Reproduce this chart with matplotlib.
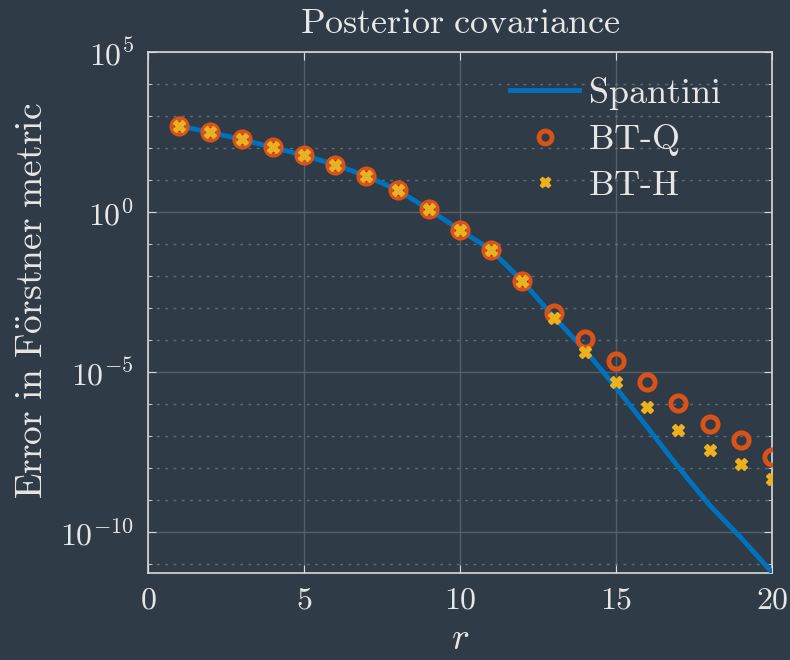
import numpy as np
import matplotlib
matplotlib.use('Agg')
import matplotlib.pyplot as plt
from matplotlib.ticker import FixedLocator, LogLocator, LogFormatterMathtext, NullFormatter

# ranks
r = [1, 2, 3, 4, 5, 6, 7, 8, 9, 10, 11, 12, 13, 14, 15, 16, 17, 18, 19, 20]

# log10 of the errors
spantini_log = [2.69, 2.49, 2.27, 2.02, 1.77, 1.48, 1.12, 0.69, 0.08, -0.56,
                -1.19, -2.16, -3.27, -4.31, -5.48, -6.72, -7.97, -9.16, -10.17, -11.26]
btq_log = [2.69, 2.49, 2.27, 2.02, 1.77, 1.48, 1.12, 0.69, 0.08, -0.56,
           -1.19, -2.16, -3.15, -3.98, -4.67, -5.31, -5.98, -6.63, -7.13, -7.65]
bth_log = [2.69, 2.49, 2.27, 2.02, 1.77, 1.48, 1.12, 0.69, 0.08, -0.56,
           -1.19, -2.16, -3.32, -4.37, -5.30, -6.10, -6.81, -7.44, -7.88, -8.35]

spantini = 10.0 ** np.array(spantini_log)
btq = 10.0 ** np.array(btq_log)
bth = 10.0 ** np.array(bth_log)

bg = '#2f3b46'
fg = '#e6e6e6'

plt.rcParams['mathtext.fontset'] = 'cm'
plt.rcParams['font.family'] = ['cmr10', 'DejaVu Serif']
plt.rcParams['axes.formatter.use_mathtext'] = True

fig = plt.figure(figsize=(7.9, 6.6), dpi=100, facecolor=bg)
ax = fig.add_axes([0.1873, 0.1318, 0.7899, 0.7894], facecolor=bg)

ax.plot(r, spantini, color='#0072BD', lw=3.5, label=r'$\mathrm{Spantini}$', zorder=3)
ax.plot(r, btq, 'o', ms=11, mfc='none', mec='#D95319', mew=3.5,
        label=r'$\mathrm{BT}$-$\mathrm{Q}$', zorder=4)
ax.plot(r, bth, 'X', ms=9, color='#EDB120', mec='#EDB120',
        label=r'$\mathrm{BT}$-$\mathrm{H}$', zorder=5)

ax.set_yscale('log')
ax.set_xlim(0, 20)
ax.set_ylim(10 ** -11.28, 1e5)
ax.set_xticks([0, 5, 10, 15, 20])
ax.xaxis.set_major_formatter(plt.FuncFormatter(lambda v, p: r'$%d$' % v))
ax.yaxis.set_major_locator(FixedLocator([1e-10, 1e-5, 1e0, 1e5]))
ax.yaxis.set_major_formatter(LogFormatterMathtext())
ax.yaxis.set_minor_locator(LogLocator(base=10, subs=(1.0,), numticks=40))
ax.yaxis.set_minor_formatter(NullFormatter())

ax.grid(True, which='major', color='#5d6873', lw=1.0, alpha=0.8)
ax.grid(True, which='minor', axis='y', color='#6f7a85', lw=1.0, ls=(0, (2, 4)), alpha=0.8)
ax.tick_params(which='both', direction='in', top=True, right=True, colors='#d9d9d9',
               labelcolor=fg, labelsize=23, pad=10)
ax.tick_params(which='major', length=6)
ax.tick_params(which='minor', length=3)
for s in ax.spines.values():
    s.set_color('#d9d9d9')
    s.set_linewidth(1.2)

ax.set_title(r'$\mathrm{Posterior\ covariance}$', color=fg, fontsize=26, pad=14)
ax.set_xlabel(r'$r$', color=fg, fontsize=27, labelpad=6)
ax.set_ylabel(r'$\mathrm{Error\ in\ F\ddot{o}rstner\ metric}$', color=fg, fontsize=27,
              labelpad=8, y=0.523)

leg = ax.legend(loc='upper right', bbox_to_anchor=(0.971, 1.019), frameon=False, fontsize=26,
                handlelength=1.9, handletextpad=0.25, labelspacing=0.3, borderaxespad=0.5,
                markerscale=0.85)
for t in leg.get_texts():
    t.set_color(fg)

fig.savefig('out.png', dpi=100, facecolor=bg)
